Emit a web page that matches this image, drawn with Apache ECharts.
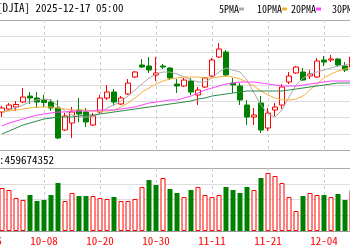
<!DOCTYPE html>
<html><head><meta charset="utf-8">
<script src="https://cdn.jsdelivr.net/npm/echarts@6/dist/echarts.min.js"></script>
<style>html,body{margin:0;padding:0;background:#fff}#c{width:350px;height:250px}</style>
</head><body><div id="c"></div>
<script>
const categories = ['09-26','09-29','09-30','10-01','10-02','10-03','10-06','10-07','10-08','10-09','10-10','10-13','10-14','10-15','10-16','10-17','10-20','10-21','10-22','10-23','10-24','10-27','10-28','10-29','10-30','10-31','11-03','11-04','11-05','11-06','11-07','11-10','11-11','11-12','11-13','11-14','11-17','11-18','11-19','11-20','11-21','11-24','11-25','11-26','11-28','12-01','12-02','12-03','12-04','12-05','12-08','12-09','12-10'];
const opens  = [null,null,46369,46461,46523,46676,46861,46800,46738,46676,46492,45815,46030,46430,46369,45969,46369,46800,46984,46615,46923,47446,47815,47784,47507,47784,47723,47230,47169,47323,46892,47138,47476,48061,48215,47261,47169,46584,46215,46646,45876,46430,46584,47292,47569,47600,47476,47446,47969,47969,48000,47784,47753];
const closes = [null,null,46492,46584,46600,46830,46800,46676,46660,46492,45569,46246,46369,46307,46061,46246,46800,46984,46676,46800,47261,47600,47753,47661,47569,47753,47415,47169,47353,46984,47046,47415,47969,48307,47507,47200,46738,46215,46276,45815,46338,46523,47138,47476,47753,47353,47538,47938,47907,48000,47815,47661,48061];
const lows   = [null,null,46215,46430,46400,46646,46615,46492,46523,46400,45538,45784,45569,46061,45907,45938,46338,46738,46584,46584,46892,47415,47723,47569,47323,47692,47353,46953,47138,46892,46584,47107,47446,48030,47446,46953,46584,45969,45969,45723,45784,46246,46461,47230,47538,47323,47384,47415,47784,47907,47753,47600,47723];
const highs  = [null,null,46553,46646,46707,47107,46984,46984,46892,46769,46738,46338,46523,46800,46492,46338,46892,47200,47076,46861,47384,47630,48000,48061,48061,47846,47753,47384,47415,47415,47138,47446,48030,48492,48276,47415,47261,46738,46492,46861,46492,46646,47230,47600,47784,47723,47661,48030,48092,48123,48030,47907,48123];
const volumes = [null,null,546,521,419,394,457,381,394,457,610,381,483,444,444,444,419,406,432,381,381,406,559,648,584,673,533,483,432,521,559,457,432,457,559,521,483,559,521,673,737,698,610,432,254,444,483,457,457,432,470,394,521].map(v => v == null ? null : v * 1000000);
const ma5  = [null,null,46369,46430,46492,46584,46676,46738,46769,46738,46553,46400,46276,46215,46215,46215,46338,46492,46584,46707,46861,47046,47230,47415,47538,47600,47600,47538,47446,47353,47292,47292,47415,47600,47723,47661,47600,47353,46953,46584,46307,46215,46430,46830,47200,47415,47538,47600,47661,47723,47784,47815,47876];
const ma10 = [null,null,46369,46400,46430,46461,46492,46523,46523,46523,46492,46461,46430,46430,46430,46400,46400,46400,46430,46523,46646,46800,46984,47107,47230,47323,47384,47415,47446,47446,47446,47415,47415,47446,47476,47446,47384,47292,47169,47015,46892,46800,46738,46738,46769,46861,47046,47230,47415,47538,47630,47692,47753];
const ma20 = [null,null,45938,46030,46092,46153,46215,46276,46307,46338,46369,46369,46400,46400,46400,46400,46430,46430,46430,46461,46492,46523,46584,46646,46676,46707,46738,46738,46800,46861,46953,47046,47107,47169,47230,47261,47292,47292,47292,47261,47230,47200,47169,47169,47169,47200,47230,47261,47292,47323,47323,47323,47323];
const ma30 = [null,null,45692,45784,45876,45969,46030,46092,46153,46184,46215,46215,46215,46246,46276,46276,46307,46338,46369,46400,46430,46461,46492,46523,46553,46584,46615,46646,46676,46707,46769,46800,46861,46892,46923,46953,46984,47015,47015,47015,47015,47015,47015,47046,47076,47107,47138,47169,47200,47230,47261,47261,47261];
const maNames = ['5PMA','10PMA','20PMA','30PMA'];
const maColors = ['#aaaaaa','#f7b03c','#ff44ff','#2e8b4a'];
const titleText = '[DJIA] 2025-12-17 05:00';
const volText = ':459674352';

const FONT = "'Noto Sans Mono CJK SC','Liberation Mono',monospace";
const RED = '#ff0000', GREEN = '#008000';
const kData = categories.map((c, i) => opens[i] == null ? '-' : [opens[i], closes[i], lows[i], highs[i]]);
// volume bars are coloured by the day's close against the previous close
const vData = categories.map((c, i) => {
  if (volumes[i] == null) return '-';
  const prev = closes[i - 1];
  const up = prev == null ? true : closes[i] >= prev;
  return { value: volumes[i], itemStyle: up ? { color: '#fff', borderColor: RED, borderWidth: 1 } : { color: GREEN, borderColor: GREEN, borderWidth: 0 } };
});
const labelEvery = (i) => i % 8 === 0;
const vSplit = { show: true, interval: labelEvery, lineStyle: { color: '#cccccc', type: [3, 3], width: 1 } };
const legendLefts = [214, 252, 286, 327];

const chart = echarts.init(document.getElementById('c'), null, { renderer: 'canvas' });
chart.setOption({
  animation: false,
  backgroundColor: '#fff',
  title: [
    { text: titleText, left: -3, top: 2, padding: 0, textStyle: { fontFamily: FONT, fontSize: 11, fontWeight: 'normal', color: '#000' } },
    { text: volText, left: -1, top: 154, padding: 0, textStyle: { fontFamily: FONT, fontSize: 11, fontWeight: 'normal', color: '#000' } }
  ],
  legend: maNames.map((n, k) => ({
    data: [n], left: legendLefts[k], top: 3, padding: 0, align: 'left', icon: 'rect',
    itemWidth: 0, itemHeight: 0, width: 100,
    formatter: (name) => '{t|' + name + '}{s|}',
    textStyle: {
      rich: {
        t: { fontFamily: FONT, fontSize: 10, color: '#000', lineHeight: 10 },
        s: { width: 5, height: 3, backgroundColor: maColors[k], padding: 0 }
      }
    }
  })),
  grid: [
    { left: -12, right: -2, top: 20, height: 130, outerBoundsMode: 'none', containLabel: false },
    { left: -12, right: -2, top: 168, height: 63, outerBoundsMode: 'none', containLabel: false }
  ],
  xAxis: [
    { type: 'category', gridIndex: 0, data: categories, boundaryGap: false,
      axisLine: { show: true, lineStyle: { color: '#aaaaaa' } }, axisTick: { show: false }, axisLabel: { show: false },
      splitLine: vSplit },
    { type: 'category', gridIndex: 1, data: categories, boundaryGap: false,
      axisLine: { show: true, lineStyle: { color: '#999999' } }, axisTick: { show: false },
      axisLabel: { interval: labelEvery, color: RED, fontFamily: FONT, fontSize: 11, margin: 4 },
      splitLine: vSplit }
  ],
  yAxis: [
    { type: 'value', gridIndex: 0, min: 45200, max: 49200, interval: 500, scale: true,
      axisLabel: { show: false }, axisLine: { show: false }, axisTick: { show: false },
      splitLine: { show: true, lineStyle: { color: ['#aaaaaa','#dddddd','#dddddd','#dddddd','#dddddd','#dddddd','#dddddd','#dddddd','#aaaaaa'] } } },
    { type: 'value', gridIndex: 1, min: 0, max: 800000000, interval: 200000000,
      axisLabel: { show: false }, axisLine: { show: false }, axisTick: { show: false },
      splitLine: { show: true, lineStyle: { color: ['#999999','#dddddd','#dddddd','#dddddd','#aaaaaa'] } } }
  ],
  series: [
    { type: 'candlestick', xAxisIndex: 0, yAxisIndex: 0, data: kData, barWidth: 5,
      itemStyle: { color: '#fff', color0: GREEN, borderColor: RED, borderColor0: GREEN, borderWidth: 1 } },
    ...[ma5, ma10, ma20, ma30].map((d, k) => ({
      name: maNames[k], type: 'line', xAxisIndex: 0, yAxisIndex: 0, data: d, showSymbol: false, symbol: 'none',
      color: maColors[k], lineStyle: { width: 1, color: maColors[k] }
    })),
    { type: 'bar', xAxisIndex: 1, yAxisIndex: 1, data: vData, barWidth: 5 }
  ]
});
</script></body></html>
